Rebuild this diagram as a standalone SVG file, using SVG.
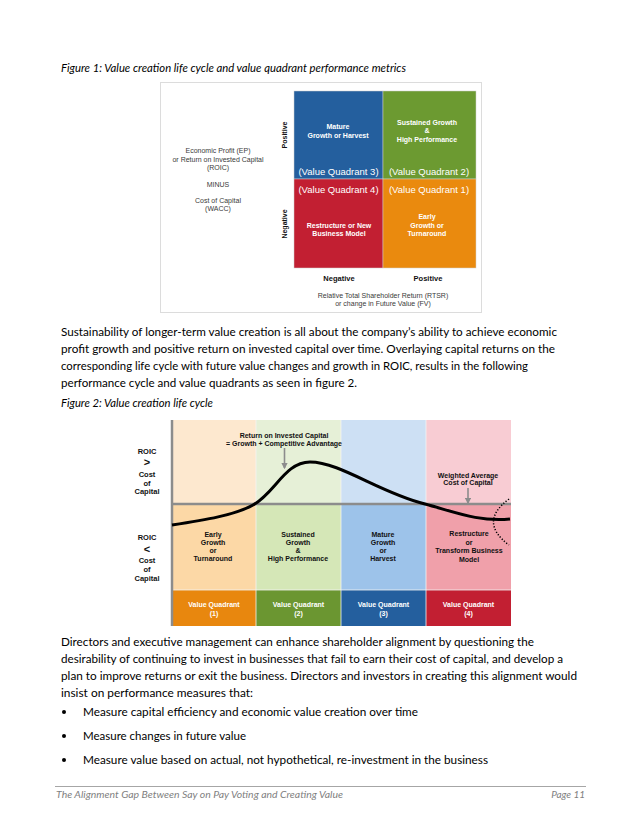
<svg xmlns="http://www.w3.org/2000/svg" width="640" height="828" viewBox="0 0 640 828">
<defs>
<style>
.body{font-family:Lato,"Open Sans","Liberation Sans",sans-serif;font-size:12px;fill:#000}
.cap{font-family:Lato,"Open Sans","Liberation Sans",sans-serif;font-size:11.5px;font-style:italic;fill:#000}
.foot{font-family:Lato,"Open Sans","Liberation Sans",sans-serif;font-size:10px;font-style:italic;fill:#7f7f7f}
.s{font-family:"Liberation Sans",Arial,sans-serif;font-size:7px;fill:#3a3a3a;text-anchor:middle}
.b{font-family:"Liberation Sans",Arial,sans-serif;font-size:7px;font-weight:bold;text-anchor:middle}
.b75{font-size:7.5px}
.big{font-size:11px}
.w{fill:#fff}
.k{fill:#111}
.vq{font-family:"Liberation Sans",Arial,sans-serif;font-size:9.5px;fill:#fff;text-anchor:middle}
.axis{stroke:#8c8c8c;stroke-width:2.5;fill:none}
.arr{stroke:#8c8c8c;stroke-width:1.6;fill:none;marker-end:url(#ah)}
</style>
<marker id="ah" viewBox="0 0 10 10" refX="8" refY="5" markerWidth="4" markerHeight="4" orient="auto"><path d="M0,0 L10,5 L0,10 z" fill="#8c8c8c"/></marker>
</defs>
<rect width="640" height="828" fill="#fff"/>

<text class="cap" x="61" y="72" textLength="345" lengthAdjust="spacingAndGlyphs">Figure 1: Value creation life cycle and value quadrant performance metrics</text>

<g id="figure1">
<rect x="160.5" y="82.5" width="321" height="230" fill="#fff" stroke="#dcdcdc"/>
<g id="q3"><rect x="294" y="91" width="89" height="88" fill="#245f9e" stroke="#d0d0d0" stroke-width="0.5"/>
<text class="b w" x="338" y="129">Mature</text><text class="b w" x="338" y="137.5">Growth or Harvest</text>
<text class="vq" x="338.5" y="175">(Value Quadrant 3)</text></g>
<g id="q2"><rect x="383" y="91" width="93" height="88" fill="#6c9a31" stroke="#d0d0d0" stroke-width="0.5"/>
<text class="b w" x="427" y="125">Sustained Growth</text><text class="b w" x="427" y="133">&amp;</text><text class="b w" x="427" y="141.5">High Performance</text>
<text class="vq" x="429" y="175">(Value Quadrant 2)</text></g>
<g id="q4"><rect x="294" y="179" width="89" height="89" fill="#c21f32" stroke="#d0d0d0" stroke-width="0.5"/>
<text class="vq" x="338.5" y="193">(Value Quadrant 4)</text>
<text class="b w" x="339" y="227.5">Restructure or New</text><text class="b w" x="339" y="235.5">Business Model</text></g>
<g id="q1"><rect x="383" y="179" width="93" height="89" fill="#ea8a0e" stroke="#d0d0d0" stroke-width="0.5"/>
<text class="vq" x="429" y="193">(Value Quadrant 1)</text>
<text class="b w" x="427" y="219">Early</text><text class="b w" x="427" y="227.5">Growth or</text><text class="b w" x="427" y="235.5">Turnaround</text></g>
<g id="fig1-labels">
<text class="b k" transform="translate(286.5,135) rotate(-90)">Positive</text>
<text class="b k" transform="translate(286.5,224) rotate(-90)">Negative</text>
<text class="b k b75" x="339" y="280.5">Negative</text>
<text class="b k b75" x="428" y="280.5">Positive</text>
<text class="s" x="383" y="297.5">Relative Total Shareholder Return (RTSR)</text>
<text class="s" x="383" y="305.5">or change in Future Value (FV)</text>
<text class="s" x="218" y="153">Economic Profit (EP)</text>
<text class="s" x="218" y="161.5">or Return on Invested Capital</text>
<text class="s" x="218" y="170">(ROIC)</text>
<text class="s" x="218" y="186.5">MINUS</text>
<text class="s" x="218" y="203">Cost of Capital</text>
<text class="s" x="218" y="211">(WACC)</text>
</g>
</g>

<g id="para1" class="body">
<text x="61" y="336" textLength="496" lengthAdjust="spacingAndGlyphs">Sustainability of longer-term value creation is all about the company’s ability to achieve economic</text>
<text x="61" y="353" textLength="494" lengthAdjust="spacingAndGlyphs">profit growth and positive return on invested capital over time.  Overlaying capital returns on the</text>
<text x="61" y="370" textLength="467" lengthAdjust="spacingAndGlyphs">corresponding life cycle with future value changes and growth in ROIC, results in the following</text>
<text x="61" y="387" textLength="296" lengthAdjust="spacingAndGlyphs">performance cycle and value quadrants as seen in figure 2.</text>
</g>

<text class="cap" x="61" y="407" textLength="152" lengthAdjust="spacingAndGlyphs">Figure 2: Value creation life cycle</text>

<g id="figure2">
<g id="col1"><rect x="172" y="420" width="84" height="84" fill="#fde8cf"/><rect x="172" y="505" width="84" height="85" fill="#fcd8a6"/><rect x="172" y="590" width="84" height="36" fill="#e8870e"/>
<text class="b k" x="213" y="536.5">Early</text><text class="b k" x="213" y="545">Growth</text><text class="b k" x="213" y="553">or</text><text class="b k" x="213" y="561">Turnaround</text>
<text class="b w" x="214" y="606.5">Value Quadrant</text><text class="b w" x="214" y="615.5">(1)</text></g>
<g id="col2"><rect x="256" y="420" width="85" height="84" fill="#e6f0d7"/><rect x="256" y="505" width="85" height="85" fill="#d5e7b7"/><rect x="256" y="590" width="85" height="36" fill="#6b9631"/>
<text class="b k" x="298" y="536.5">Sustained</text><text class="b k" x="298" y="545">Growth</text><text class="b k" x="298" y="553">&amp;</text><text class="b k" x="298" y="561">High Performance</text>
<text class="b w" x="298.5" y="606.5">Value Quadrant</text><text class="b w" x="298.5" y="615.5">(2)</text></g>
<g id="col3"><rect x="341" y="420" width="85" height="84" fill="#cde0f4"/><rect x="341" y="505" width="85" height="85" fill="#9dc3ea"/><rect x="341" y="590" width="85" height="36" fill="#245f9e"/>
<text class="b k" x="383" y="536.5">Mature</text><text class="b k" x="383" y="545">Growth</text><text class="b k" x="383" y="553">or</text><text class="b k" x="383" y="561">Harvest</text>
<text class="b w" x="383.5" y="606.5">Value Quadrant</text><text class="b w" x="383.5" y="615.5">(3)</text></g>
<g id="col4"><rect x="426" y="420" width="85" height="84" fill="#f8ccd3"/><rect x="426" y="505" width="85" height="85" fill="#f0a0aa"/><rect x="426" y="590" width="85" height="36" fill="#c21f32"/>
<text class="b k" x="469" y="536">Restructure</text><text class="b k" x="469" y="544.5">or</text><text class="b k" x="469" y="553">Transform Business</text><text class="b k" x="469" y="561.5">Model</text>
<text class="b w" x="468.5" y="606.5">Value Quadrant</text><text class="b w" x="468.5" y="615.5">(4)</text></g>
<g id="dividers" stroke="#f4f4f4" stroke-width="0.8">
<line x1="256" y1="420" x2="256" y2="626"/><line x1="341" y1="420" x2="341" y2="626"/><line x1="426" y1="420" x2="426" y2="626"/><line x1="172" y1="590" x2="511" y2="590"/>
</g>
<g id="connectors">
<line class="axis" x1="172" y1="420" x2="172" y2="626"/>
<line class="axis" x1="172" y1="504" x2="511" y2="504"/>
<path d="M172,525 C205,520 235,515 253,505 C275,493 285,462 310,462 C340,462 380,493 425,504 C455,512 478,522 510,519" fill="none" stroke="#000" stroke-width="3"/>
<path d="M509,499 Q478,522 509,545" fill="none" stroke="#000" stroke-width="1.5" stroke-dasharray="1.2 1.8"/>
<line class="arr" x1="284.5" y1="448" x2="284.5" y2="468"/>
<line class="arr" x1="468" y1="488" x2="468" y2="503"/>
</g>
<g id="fig2-labels">
<text class="b k" x="284" y="437.5">Return on Invested Capital</text>
<text class="b k" x="284" y="445.5">= Growth + Competitive Advantage</text>
<text class="b k" x="468" y="477.5">Weighted Average</text>
<text class="b k" x="468" y="485">Cost of Capital</text>
<text class="b k b75" x="147" y="453.5">ROIC</text>
<text class="b k big" x="147" y="466">&gt;</text>
<text class="b k b75" x="147" y="476.5">Cost</text>
<text class="b k b75" x="147" y="485.5">of</text>
<text class="b k b75" x="147" y="494">Capital</text>
<text class="b k b75" x="147" y="539.5">ROIC</text>
<text class="b k big" x="147" y="553">&lt;</text>
<text class="b k b75" x="147" y="563">Cost</text>
<text class="b k b75" x="147" y="571.5">of</text>
<text class="b k b75" x="147" y="580.5">Capital</text>
</g>
</g>

<g id="para2" class="body">
<text x="61" y="646" textLength="473" lengthAdjust="spacingAndGlyphs">Directors and executive management can enhance shareholder alignment by questioning the</text>
<text x="61" y="663" textLength="502" lengthAdjust="spacingAndGlyphs">desirability of continuing to invest in businesses that fail to earn their cost of capital, and develop a</text>
<text x="61" y="680" textLength="516" lengthAdjust="spacingAndGlyphs">plan to improve returns or exit the business.  Directors and investors in creating this alignment would</text>
<text x="61" y="697" textLength="192" lengthAdjust="spacingAndGlyphs">insist on performance measures that:</text>
</g>
<g id="bullets" class="body">
<circle cx="64" cy="712" r="2" fill="#000"/>
<text x="83" y="716" textLength="335" lengthAdjust="spacingAndGlyphs">Measure capital efficiency and economic value creation over time</text>
<circle cx="64" cy="736" r="2" fill="#000"/>
<text x="83" y="740" textLength="163" lengthAdjust="spacingAndGlyphs">Measure changes in future value</text>
<circle cx="64" cy="760" r="2" fill="#000"/>
<text x="83" y="764" textLength="405" lengthAdjust="spacingAndGlyphs">Measure value based on actual, not hypothetical, re-investment in the business</text>
</g>

<g id="footer">
<line x1="55" y1="786.5" x2="586" y2="786.5" stroke="#a6a6a6" stroke-width="1"/>
<text class="foot" x="56" y="798" textLength="287" lengthAdjust="spacingAndGlyphs">The Alignment Gap Between Say on Pay Voting and Creating Value</text>
<text class="foot" x="585" y="798" text-anchor="end">Page 11</text>
</g>
</svg>
